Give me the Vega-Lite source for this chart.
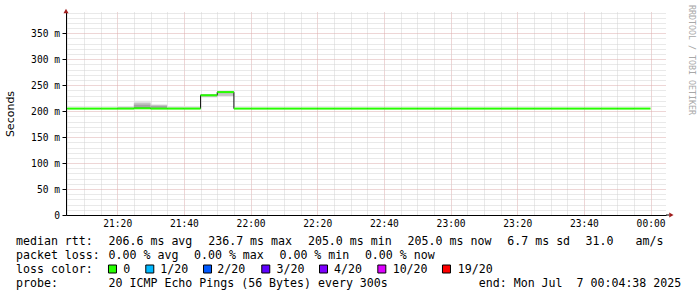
{
  "$schema": "https://vega.github.io/schema/vega-lite/v6.json",
  "width": 600,
  "height": 203,
  "autosize": {"type": "none"},
  "padding": {"left": 66, "top": 12, "right": 31, "bottom": 82},
  "background": "#ffffff",
  "config": {"view": {"stroke": null}},
  "title": {
    "text": "RRDTOOL / TOBI OETIKER",
    "orient": "right",
    "anchor": "start",
    "frame": "group",
    "offset": 1,
    "angle": 90,
    "baseline": "middle",
    "dx": -7,
    "font": "DejaVu Sans Mono",
    "fontSize": 8.3,
    "fontWeight": "normal",
    "color": "#a8a8a8"
  },
  "datasets": {
    "median": [
      {"t": "2025-07-06T21:05:00Z", "t2": "2025-07-06T21:10:00Z", "rtt": 205},
      {"t": "2025-07-06T21:10:00Z", "t2": "2025-07-06T21:15:00Z", "rtt": 205},
      {"t": "2025-07-06T21:15:00Z", "t2": "2025-07-06T21:20:00Z", "rtt": 205},
      {"t": "2025-07-06T21:20:00Z", "t2": "2025-07-06T21:25:00Z", "rtt": 205},
      {"t": "2025-07-06T21:25:00Z", "t2": "2025-07-06T21:30:00Z", "rtt": 205.5},
      {"t": "2025-07-06T21:30:00Z", "t2": "2025-07-06T21:35:00Z", "rtt": 205},
      {"t": "2025-07-06T21:35:00Z", "t2": "2025-07-06T21:40:00Z", "rtt": 205},
      {"t": "2025-07-06T21:40:00Z", "t2": "2025-07-06T21:45:00Z", "rtt": 205},
      {"t": "2025-07-06T21:45:00Z", "t2": "2025-07-06T21:50:00Z", "rtt": 230.6},
      {"t": "2025-07-06T21:50:00Z", "t2": "2025-07-06T21:55:00Z", "rtt": 236.7},
      {"t": "2025-07-06T21:55:00Z", "t2": "2025-07-06T22:00:00Z", "rtt": 205},
      {"t": "2025-07-06T22:00:00Z", "t2": "2025-07-06T22:05:00Z", "rtt": 205},
      {"t": "2025-07-06T22:05:00Z", "t2": "2025-07-06T22:10:00Z", "rtt": 205},
      {"t": "2025-07-06T22:10:00Z", "t2": "2025-07-06T22:15:00Z", "rtt": 205},
      {"t": "2025-07-06T22:15:00Z", "t2": "2025-07-06T22:20:00Z", "rtt": 205},
      {"t": "2025-07-06T22:20:00Z", "t2": "2025-07-06T22:25:00Z", "rtt": 205},
      {"t": "2025-07-06T22:25:00Z", "t2": "2025-07-06T22:30:00Z", "rtt": 205},
      {"t": "2025-07-06T22:30:00Z", "t2": "2025-07-06T22:35:00Z", "rtt": 205},
      {"t": "2025-07-06T22:35:00Z", "t2": "2025-07-06T22:40:00Z", "rtt": 205},
      {"t": "2025-07-06T22:40:00Z", "t2": "2025-07-06T22:45:00Z", "rtt": 205},
      {"t": "2025-07-06T22:45:00Z", "t2": "2025-07-06T22:50:00Z", "rtt": 205},
      {"t": "2025-07-06T22:50:00Z", "t2": "2025-07-06T22:55:00Z", "rtt": 205},
      {"t": "2025-07-06T22:55:00Z", "t2": "2025-07-06T23:00:00Z", "rtt": 205},
      {"t": "2025-07-06T23:00:00Z", "t2": "2025-07-06T23:05:00Z", "rtt": 205},
      {"t": "2025-07-06T23:05:00Z", "t2": "2025-07-06T23:10:00Z", "rtt": 205},
      {"t": "2025-07-06T23:10:00Z", "t2": "2025-07-06T23:15:00Z", "rtt": 205},
      {"t": "2025-07-06T23:15:00Z", "t2": "2025-07-06T23:20:00Z", "rtt": 205},
      {"t": "2025-07-06T23:20:00Z", "t2": "2025-07-06T23:25:00Z", "rtt": 205},
      {"t": "2025-07-06T23:25:00Z", "t2": "2025-07-06T23:30:00Z", "rtt": 205},
      {"t": "2025-07-06T23:30:00Z", "t2": "2025-07-06T23:35:00Z", "rtt": 205},
      {"t": "2025-07-06T23:35:00Z", "t2": "2025-07-06T23:40:00Z", "rtt": 205},
      {"t": "2025-07-06T23:40:00Z", "t2": "2025-07-06T23:45:00Z", "rtt": 205},
      {"t": "2025-07-06T23:45:00Z", "t2": "2025-07-06T23:50:00Z", "rtt": 205},
      {"t": "2025-07-06T23:50:00Z", "t2": "2025-07-06T23:55:00Z", "rtt": 205},
      {"t": "2025-07-06T23:55:00Z", "t2": "2025-07-07T00:00:00Z", "rtt": 205}
    ],
    "smoke": [
      {"t": "2025-07-06T21:20:00Z", "t2": "2025-07-06T21:25:00Z", "lo": 205, "hi": 210, "band": 1},
      {"t": "2025-07-06T21:20:00Z", "t2": "2025-07-06T21:25:00Z", "lo": 205, "hi": 207.5, "band": 2},
      {"t": "2025-07-06T21:25:00Z", "t2": "2025-07-06T21:30:00Z", "lo": 205, "hi": 220, "band": 1},
      {"t": "2025-07-06T21:25:00Z", "t2": "2025-07-06T21:30:00Z", "lo": 205, "hi": 216, "band": 2},
      {"t": "2025-07-06T21:25:00Z", "t2": "2025-07-06T21:30:00Z", "lo": 205, "hi": 212.5, "band": 3},
      {"t": "2025-07-06T21:30:00Z", "t2": "2025-07-06T21:35:00Z", "lo": 205, "hi": 212.5, "band": 2},
      {"t": "2025-07-06T21:30:00Z", "t2": "2025-07-06T21:35:00Z", "lo": 205, "hi": 210, "band": 3},
      {"t": "2025-07-06T21:35:00Z", "t2": "2025-07-06T21:40:00Z", "lo": 205, "hi": 209.5, "band": 1},
      {"t": "2025-07-06T21:40:00Z", "t2": "2025-07-06T21:45:00Z", "lo": 205, "hi": 209.5, "band": 1},
      {"t": "2025-07-06T21:45:00Z", "t2": "2025-07-06T21:50:00Z", "lo": 226.8, "hi": 232, "band": 2},
      {"t": "2025-07-06T21:50:00Z", "t2": "2025-07-06T21:55:00Z", "lo": 229.3, "hi": 237.5, "band": 2}
    ],
    "legend": [
      {"row": 0, "col": 0, "text": "median rtt:"},
      {"row": 0, "col": 13, "text": "206.6 ms avg"},
      {"row": 0, "col": 27, "text": "236.7 ms max"},
      {"row": 0, "col": 41, "text": "205.0 ms min"},
      {"row": 0, "col": 55, "text": "205.0 ms now"},
      {"row": 0, "col": 69, "text": "6.7 ms sd"},
      {"row": 0, "col": 80, "text": "31.0"},
      {"row": 0, "col": 87, "text": "am/s"},
      {"row": 1, "col": 0, "text": "packet loss:"},
      {"row": 1, "col": 13, "text": "0.00 % avg"},
      {"row": 1, "col": 25, "text": "0.00 % max"},
      {"row": 1, "col": 37, "text": "0.00 % min"},
      {"row": 1, "col": 49, "text": "0.00 % now"},
      {"row": 2, "col": 0, "text": "loss color:"},
      {"row": 2, "col": 15.07, "text": "0"},
      {"row": 2, "col": 20.27, "text": "1/20"},
      {"row": 2, "col": 28.27, "text": "2/20"},
      {"row": 2, "col": 36.6, "text": "3/20"},
      {"row": 2, "col": 44.66, "text": "4/20"},
      {"row": 2, "col": 52.9, "text": "10/20"},
      {"row": 2, "col": 62.04, "text": "19/20"},
      {"row": 3, "col": 0, "text": "probe:"},
      {"row": 3, "col": 13, "text": "20 ICMP Echo Pings (56 Bytes) every 300s"},
      {"row": 3, "col": 65, "text": "end: Mon Jul\u00a0\u00a07 00:04:38 2025"}
    ],
    "loss": [
      {"col": 13.55, "loss": "0"},
      {"col": 18.79, "loss": "1/20"},
      {"col": 26.9, "loss": "2/20"},
      {"col": 35.08, "loss": "3/20"},
      {"col": 43.19, "loss": "4/20"},
      {"col": 51.38, "loss": "10/20"},
      {"col": 60.46, "loss": "19/20"}
    ]
  },
  "layer": [
    {
      "data": {"name": "smoke"},
      "mark": {"type": "rect"},
      "encoding": {
        "x": {
          "field": "t", "type": "temporal",
          "scale": {"type": "utc", "nice": false, "domain": [1751835878000, 1751846678000]},
          "axis": {
            "orient": "bottom",
            "title": null,
            "values": [1751835900000, 1751836200000, 1751836500000, 1751837100000, 1751837400000, 1751837700000, 1751838300000, 1751838600000, 1751838900000, 1751839500000, 1751839800000, 1751840100000, 1751840700000, 1751841000000, 1751841300000, 1751841900000, 1751842200000, 1751842500000, 1751843100000, 1751843400000, 1751843700000, 1751844300000, 1751844600000, 1751844900000, 1751845500000, 1751845800000, 1751846100000],
            "grid": true,
            "gridColor": "#d2d2d2",
            "gridDash": [1, 1],
            "labels": false,
            "ticks": false,
            "domain": false
          }
        },
        "x2": {"field": "t2"},
        "y": {
          "field": "lo", "type": "quantitative",
          "scale": {"domain": [0, 391], "nice": false},
          "axis": {
            "orient": "left",
            "title": null,
            "values": [10, 20, 30, 40, 60, 70, 80, 90, 110, 120, 130, 140, 160, 170, 180, 190, 210, 220, 230, 240, 260, 270, 280, 290, 310, 320, 330, 340, 360, 370, 380, 390],
            "grid": true,
            "gridColor": "#d2d2d2",
            "gridDash": [1, 1],
            "labels": false,
            "ticks": false,
            "domain": false
          }
        },
        "y2": {"field": "hi"},
        "fill": {"field": "band", "type": "ordinal", "scale": {"domain": [1, 2, 3], "range": ["#e2e2e2", "#c4c4c4", "#a4a4a4"]}, "legend": null}
      }
    },
    {
      "data": {"name": "median"},
      "mark": {"type": "line", "interpolate": "step-after", "color": "#111111", "strokeWidth": 1},
      "encoding": {
        "x": {"field": "t", "type": "temporal",
          "scale": {"type": "utc", "nice": false, "domain": [1751835878000, 1751846678000]},
          "axis": {
            "orient": "bottom",
            "title": null,
            "values": [1751836800000, 1751838000000, 1751839200000, 1751840400000, 1751841600000, 1751842800000, 1751844000000, 1751845200000, 1751846400000],
            "format": "%H:%M",
            "grid": true,
            "gridColor": "#dcacac",
            "gridDash": [1, 1],
            "labelOverlap": false,
            "labelFlush": false,
            "labelFont": "DejaVu Sans Mono",
            "labelFontSize": 9.6,
            "labelColor": "#000000",
            "labelPadding": 3.5,
            "ticks": false,
            "domainColor": "#000000"
          }},
        "y": {"field": "rtt", "type": "quantitative",
          "scale": {"domain": [0, 391], "nice": false},
          "axis": {
            "orient": "left",
            "title": "Seconds",
            "values": [0, 50, 100, 150, 200, 250, 300, 350],
            "labelExpr": "datum.value === 0 ? '0' : datum.value + ' m'",
            "grid": true,
            "gridColor": "#dcacac",
            "gridDash": [1, 1],
            "labelOverlap": false,
            "labelFlush": false,
            "labelFont": "DejaVu Sans Mono",
            "labelFontSize": 9.6,
            "labelColor": "#000000",
            "labelPadding": 2.5,
            "tickSize": 4,
            "tickColor": "#000000",
            "domainColor": "#000000",
            "titleFont": "DejaVu Sans",
            "titleFontSize": 11,
            "titleFontWeight": "normal",
            "titleColor": "#000000",
            "titleX": -55.5,
            "titleY": 101.5,
            "titleAngle": 270,
            "titleAlign": "center",
            "titleBaseline": "middle"
          }}
      }
    },
    {
      "data": {"name": "median"},
      "mark": {"type": "rule", "color": "#26ff00", "strokeWidth": 2},
      "encoding": {
        "x": {"field": "t", "type": "temporal", "axis": null,
          "scale": {"type": "utc", "nice": false, "domain": [1751835878000, 1751846678000]}},
        "x2": {"field": "t2"},
        "y": {"field": "rtt", "type": "quantitative", "axis": null, "scale": {"domain": [0, 391], "nice": false}}
      }
    },
    {
      "data": {"values": [{}]},
      "mark": {"type": "rule", "color": "#000000", "strokeWidth": 1},
      "encoding": {
        "x": {"datum": 1751846678000, "type": "temporal", "axis": null,
          "scale": {"type": "utc", "nice": false, "domain": [1751835878000, 1751846678000]}},
        "x2": {"datum": 1751846740000},
        "y": {"datum": 0, "type": "quantitative", "axis": null, "scale": {"domain": [0, 391], "nice": false}}
      }
    },
    {
      "data": {"values": [{}]},
      "mark": {"type": "point", "shape": "triangle-right", "filled": true, "color": "#a01e1e", "size": 25, "opacity": 1},
      "encoding": {
        "x": {"datum": 1751846775000, "type": "temporal", "axis": null,
          "scale": {"type": "utc", "nice": false, "domain": [1751835878000, 1751846678000]}},
        "y": {"datum": 0, "type": "quantitative", "axis": null, "scale": {"domain": [0, 391], "nice": false}}
      }
    },
    {
      "data": {"values": [{}]},
      "mark": {"type": "point", "shape": "triangle-up", "filled": true, "color": "#a01e1e", "size": 25, "opacity": 1},
      "encoding": {
        "x": {"datum": 1751835878000, "type": "temporal", "axis": null,
          "scale": {"type": "utc", "nice": false, "domain": [1751835878000, 1751846678000]}},
        "y": {"datum": 393, "type": "quantitative", "axis": null, "scale": {"domain": [0, 391], "nice": false}}
      }
    },
    {
      "data": {"name": "legend"},
      "mark": {"type": "text", "align": "left", "baseline": "alphabetic", "font": "DejaVu Sans Mono", "fontSize": 11.6, "color": "#000000"},
      "encoding": {
        "x": {"field": "col", "type": "quantitative", "scale": {"domain": [0, 100], "range": [-50, 662], "nice": false, "zero": false}, "axis": null},
        "y": {"field": "row", "type": "quantitative", "scale": {"domain": [0, 3], "range": [232.5, 274.5], "nice": false, "zero": false}, "axis": null},
        "text": {"field": "text"}
      }
    },
    {
      "data": {"name": "loss"},
      "mark": {"type": "point", "shape": "square", "filled": true, "size": 64, "stroke": "#000000", "strokeWidth": 1, "opacity": 1, "yOffset": -3.5},
      "encoding": {
        "x": {"field": "col", "type": "quantitative", "scale": {"domain": [0, 100], "range": [-50, 662], "nice": false, "zero": false}, "axis": null},
        "y": {"datum": 2, "type": "quantitative", "scale": {"domain": [0, 3], "range": [232.5, 274.5], "nice": false, "zero": false}, "axis": null},
        "fill": {"field": "loss", "type": "nominal", "scale": {"domain": ["0", "1/20", "2/20", "3/20", "4/20", "10/20", "19/20"], "range": ["#26ff00", "#00b8ff", "#0059ff", "#5e00ff", "#7e00ff", "#dd00ff", "#ff0000"]}, "legend": null}
      }
    }
  ],
  "resolve": {
    "scale": {"x": "independent", "y": "independent", "fill": "independent"},
    "axis": {"x": "independent", "y": "independent"}
  }
}
